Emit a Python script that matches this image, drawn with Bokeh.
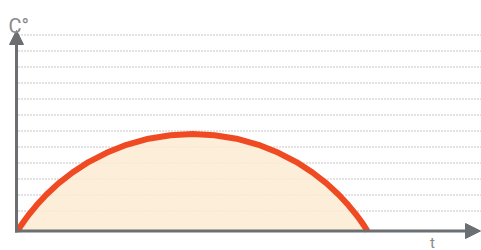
from bokeh.plotting import figure
from bokeh.models import Range1d, Arrow, NormalHead, ColumnDataSource, Label
from bokeh.core.properties import value
from bokeh.embed import file_html
from bokeh.resources import INLINE

# curve (t, temperature)
t_vals = [1, 4, 8, 13, 20, 30, 42, 56, 72, 90, 110, 132, 154, 176,
          198, 220, 242, 262, 280, 296, 310, 322, 332, 339, 344, 348, 351]
temp_vals = [0, 4.7, 10.5, 17.2, 25.7, 36.5, 47.6, 58.5, 68.9, 78.2, 86.2, 92.3, 95.8, 97,
             95.8, 92.3, 86.2, 78.2, 68.9, 58.5, 47.6, 36.5, 25.7, 17.2, 10.5, 4.7, 0]

# horizontal dotted guide levels
grid_levels = [20, 36, 52, 68, 84, 100, 116, 132, 148, 164, 180, 196]

y_label = "C°"
x_label = "t"

AXIS = "#6b6f71"
CURVE = "#f04a23"
FILL = "#fdebd2"

p = figure(width=481, height=250, output_backend="svg", toolbar_location=None,
           x_axis_location=None, y_axis_location=None, min_border=0,
           x_range=Range1d(-16, 465), y_range=Range1d(-19.5, 230.5))
p.grid.visible = False
p.outline_line_color = None
p.background_fill_color = "white"

gsrc = ColumnDataSource(dict(y=grid_levels, x0=[2] * len(grid_levels), x1=[466] * len(grid_levels)))
p.segment(x0="x0", y0="y", x1="x1", y1="y", source=gsrc, line_color="#8c8c8c",
          line_width=1, line_dash="1 2")

src = ColumnDataSource(dict(t=t_vals, v=temp_vals, z=[0] * len(t_vals)))
p.varea(x="t", y1="z", y2="v", source=src, fill_color=FILL, fill_alpha=0.85)
p.line(x="t", y="v", source=src, line_color=CURVE, line_width=6, line_join="round")

p.add_layout(Arrow(x_start=0, y_start=-1.5, x_end=0, y_end=200.5,
                   line_color=AXIS, line_width=3,
                   end=NormalHead(size=14, fill_color=AXIS, line_color=AXIS, line_width=1)))
p.add_layout(Arrow(x_start=-1.5, y_start=0, x_end=464, y_end=0,
                   line_color=AXIS, line_width=3,
                   end=NormalHead(size=15, fill_color=AXIS, line_color=AXIS, line_width=1)))

p.add_layout(Label(x=-8, y=205.5, text=y_label, text_font="Roboto", text_font_size="20px",
                   text_color="#8a8a8a", text_baseline="alphabetic", text_align="left"))
p.add_layout(Label(x=416, y=-11.5, text=x_label, text_font="Roboto", text_font_size="15px",
                   text_color="#8a8a8a", text_baseline="alphabetic", text_align="center"))

open("out.html", "w").write(file_html(p, INLINE))
